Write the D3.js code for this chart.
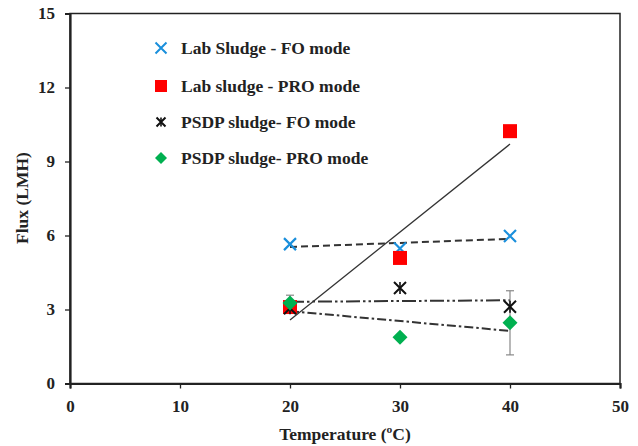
<!DOCTYPE html>
<html><head><meta charset="utf-8">
<script src="https://cdn.jsdelivr.net/npm/d3@7"></script>
<style>body{margin:0;background:#fff}svg{display:block}text{font-family:"Liberation Serif","Times New Roman",serif;font-weight:bold;fill:#222}</style>
</head><body>
<script>
const temps = [20, 30, 40];
const labFO = [5.65, 5.47, 5.98];
const labPRO = [3.1, 5.09, 10.23];
const psdpFO = [3.05, 3.87, 3.11];
const psdpPRO = [3.26, 1.88, 2.46];
const psdpPROerr = [0.32, null, 1.3];
const xTicks = [0, 10, 20, 30, 40, 50];
const yTicks = [0, 3, 6, 9, 12, 15];
const seriesNames = ["Lab Sludge - FO mode", "Lab sludge - PRO mode", "PSDP sludge- FO mode", "PSDP sludge- PRO mode"];

const W = 638, H = 446;
const svg = d3.select("body").append("svg").attr("width", W).attr("height", H);
const x = d3.scaleLinear().domain([0, 50]).range([70, 620]);
const y = d3.scaleLinear().domain([0, 15]).range([383.5, 13.5]);

// frame
svg.append("rect").attr("x", 70).attr("y", 13.5).attr("width", 550).attr("height", 370)
  .attr("fill", "none").attr("stroke", "#222").attr("stroke-width", 1.5);

const xAxis = svg.append("g").attr("transform", "translate(0,383.5)")
  .call(d3.axisBottom(x).tickValues(xTicks).tickSize(5).tickPadding(11).tickFormat(d3.format("d")));
const yAxis = svg.append("g").attr("transform", "translate(70,0)")
  .call(d3.axisLeft(y).tickValues(yTicks).tickSize(5).tickPadding(10).tickFormat(d3.format("d")));
[xAxis, yAxis].forEach(a => {
  a.select(".domain").attr("stroke", "#222").attr("stroke-width", 2.2);
  a.selectAll(".tick line").attr("stroke", "#222").attr("stroke-width", 1.3);
  a.selectAll(".tick text").style("font-size", "17px").style("font-family", "Liberation Serif").style("font-weight", "bold").attr("fill", "#222");
});

svg.append("text").attr("x", 345).attr("y", 440).attr("text-anchor", "middle").style("font-size", "17.5px")
  .text("Temperature (ºC)");
svg.append("text").attr("transform", "translate(28,198) rotate(-90)").attr("text-anchor", "middle").style("font-size", "17.5px")
  .text("Flux (LMH)");

// regression trend lines
function fit(xs, ys) {
  const mx = d3.mean(xs), my = d3.mean(ys);
  const b = d3.sum(xs, (v, i) => (v - mx) * (ys[i] - my)) / d3.sum(xs, v => (v - mx) ** 2);
  const a = my - b * mx;
  return [[xs[0], a + b * xs[0]], [xs[xs.length - 1], a + b * xs[xs.length - 1]]];
}
const line = d3.line().x(d => x(d[0])).y(d => y(d[1]));
const trends = [
  [labFO, "7,4"],
  [labPRO, null],
  [psdpFO, "14,3,2.5,3,2.5,3"],
  [psdpPRO, "9,3,2.5,3"]
];
trends.forEach(([vals, dash]) => {
  svg.append("path").attr("d", line(fit(temps, vals))).attr("fill", "none")
    .attr("stroke", "#333").attr("stroke-width", dash ? 2 : 1.3)
    .attr("stroke-dasharray", dash);
});

// error bars
temps.forEach((t, i) => {
  const e = psdpPROerr[i];
  if (e == null) return;
  const g = svg.append("g").attr("stroke", "#888").attr("stroke-width", 1.2);
  g.append("line").attr("x1", x(t)).attr("x2", x(t)).attr("y1", y(psdpPRO[i] - e)).attr("y2", y(psdpPRO[i] + e));
  [psdpPRO[i] - e, psdpPRO[i] + e].forEach(v => g.append("line").attr("x1", x(t) - 4).attr("x2", x(t) + 4).attr("y1", y(v)).attr("y2", y(v)));
});

// marker drawers
function cross(g, cx, cy, r, color, sw) {
  g.append("path").attr("d", `M${cx - r},${cy - r}L${cx + r},${cy + r}M${cx - r},${cy + r}L${cx + r},${cy - r}`)
    .attr("stroke", color).attr("stroke-width", sw).attr("fill", "none");
}
function star(g, cx, cy, r) {
  cross(g, cx, cy, r, "#111", 2);
  g.append("path").attr("d", `M${cx},${cy - r}L${cx},${cy + r}`).attr("stroke", "#111").attr("stroke-width", 1.6);
}
function square(g, cx, cy, s) {
  g.append("rect").attr("x", cx - s / 2).attr("y", cy - s / 2).attr("width", s).attr("height", s).attr("fill", "#ff0000");
}
function diamond(g, cx, cy, r) {
  g.append("path").attr("d", `M${cx},${cy - r}L${cx + r},${cy}L${cx},${cy + r}L${cx - r},${cy}Z`).attr("fill", "#00b050");
}

const mk = svg.append("g");
temps.forEach((t, i) => cross(mk, x(t), y(labFO[i]), 6, "#1a8fdc", 2.2));
temps.forEach((t, i) => square(mk, x(t), y(labPRO[i]), 14));
temps.forEach((t, i) => star(mk, x(t), y(psdpFO[i]), 6));
temps.forEach((t, i) => diamond(mk, x(t), y(psdpPRO[i]), 7.5));

// legend
const legY = [48, 86, 122, 158];
const lg = svg.append("g");
cross(lg, 161, legY[0], 5.5, "#1a8fdc", 2);
square(lg, 161, legY[1], 12);
star(lg, 161, legY[2], 4.5);
diamond(lg, 161, legY[3], 6);
seriesNames.forEach((n, i) => {
  lg.append("text").attr("x", 181).attr("y", legY[i] + 6).style("font-size", "17.5px").text(n);
});
</script>
</body></html>
